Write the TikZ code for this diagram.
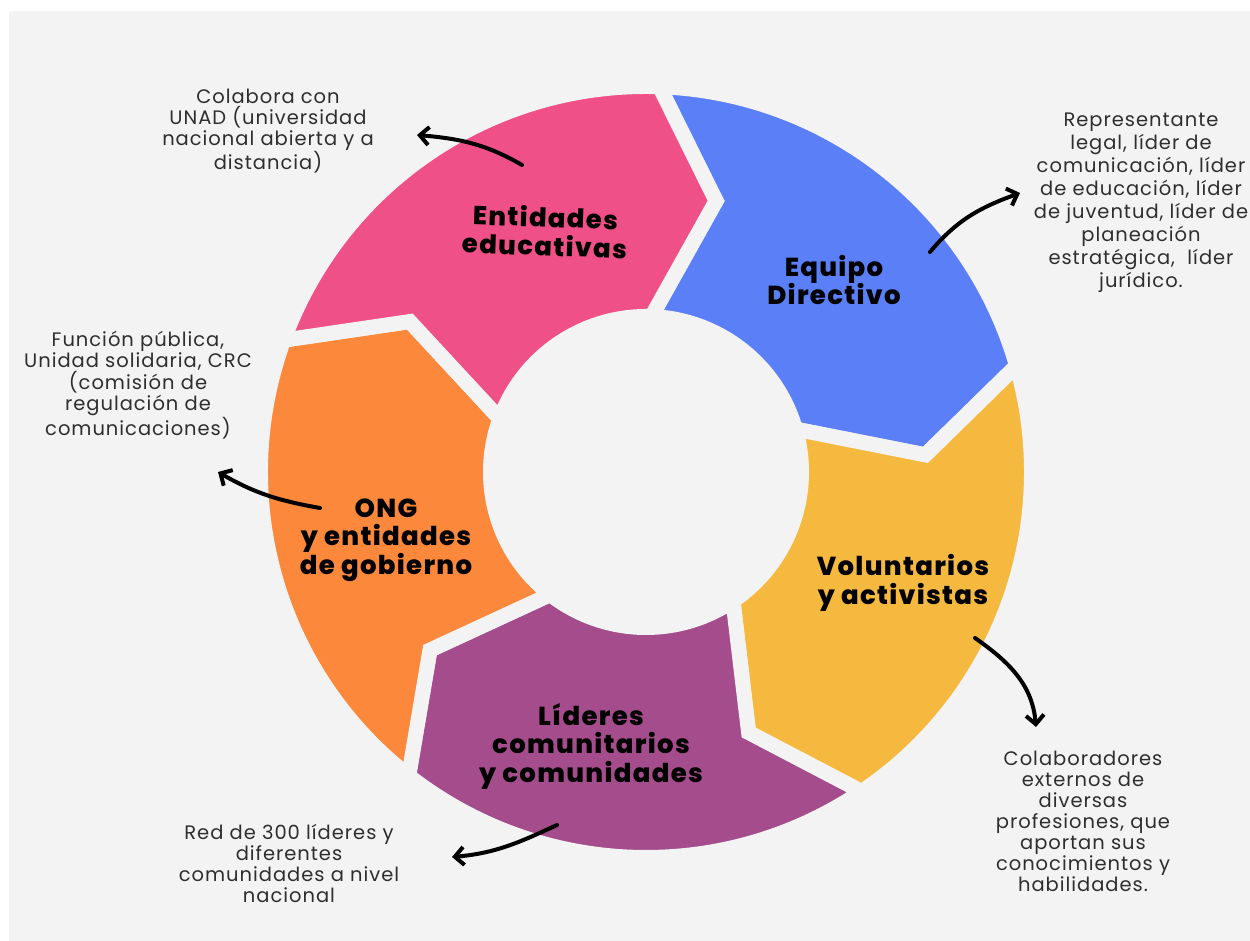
\documentclass[tikz,border=0pt]{standalone}
\usepackage{fontspec}
\setmainfont{Poppins}[LetterSpace=5]
\newfontfamily\titlefont{Poppins ExtraBold}[LetterSpace=5]
\usetikzlibrary{arrows.meta}

\definecolor{bgray}{HTML}{F3F3F3}
\definecolor{notetext}{HTML}{2E2E2E}
\definecolor{pinkpart}{HTML}{EF5087}
\definecolor{bluepart}{HTML}{5B7FF6}
\definecolor{yellowpart}{HTML}{F6B940}
\definecolor{purplepart}{HTML}{A54C8C}
\definecolor{orangepart}{HTML}{FB883B}

\begin{document}
\begin{tikzpicture}[x=1pt, y=1pt,
    note/.style={align=center, text=notetext, font=\fontsize{19.5}{21}\selectfont},
    title/.style={align=center, text=black, font=\titlefont\fontsize{26}{28.5}\selectfont},
    link/.style={-{Straight Barb[length=9pt, width=18pt]}, line width=4pt, line cap=round, line join=round},
    gap/.style={draw=bgray, line width=15pt}]

    %% Background
    \fill[white] (0,0) rectangle (1250,941);
    \fill[bgray] (9,0) rectangle (1250,930);
    \useasboundingbox (0,0) rectangle (1250,941);

  \coordinate (C) at (646,469);

  % Anillo de cinco flechas
  \begin{scope}[shift={(C)}]
    \path[fill=bluepart, gap] (88:385.5pt) arc[start angle=88, end angle=16, radius=385.5pt]
      -- (3.5:280pt) -- (16:155.5pt) arc[start angle=16, end angle=88, radius=155.5pt]
      -- (75.5:280pt) -- cycle;
    \path[fill=yellowpart, gap] (16:385.5pt) arc[start angle=16, end angle=-56, radius=385.5pt]
      -- (-68.5:280pt) -- (-56:155.5pt) arc[start angle=-56, end angle=16, radius=155.5pt]
      -- (3.5:280pt) -- cycle;
    \path[fill=purplepart, gap] (-56:385.5pt) arc[start angle=-56, end angle=-128, radius=385.5pt]
      -- (-140.5:280pt) -- (-128:155.5pt) arc[start angle=-128, end angle=-56, radius=155.5pt]
      -- (-68.5:280pt) -- cycle;
    \path[fill=orangepart, gap] (-128:385.5pt) arc[start angle=-128, end angle=-200, radius=385.5pt]
      -- (-212.5:280pt) -- (-200:155.5pt) arc[start angle=-200, end angle=-128, radius=155.5pt]
      -- (-140.5:280pt) -- cycle;
    \path[fill=pinkpart, gap] (160:385.5pt) arc[start angle=160, end angle=88, radius=385.5pt]
      -- (75.5:280pt) -- (88:155.5pt) arc[start angle=88, end angle=160, radius=155.5pt]
      -- (147.5:280pt) -- cycle;
  \end{scope}

  % Rótulos de las flechas
  \node[title, rotate=-2] (edu) at (545,710) {Entidades\\educativas};
  \node[title] (dir) at (834,661) {Equipo\\Directivo};
  \node[title] (vol) at (903,358) {Voluntarios\\y activistas};
  \node[title] (lid) at (591,195) {Líderes\\comunitarios\\y comunidades};
  \node[title] (ong) at (386,401) {ONG\\y entidades\\de gobierno};

  % Notas
  \node[note] (edu-note) at (268,810) {Colabora con\\UNAD (universidad\\nacional abierta y a\\distancia)};
  \node[note, font=\fontsize{19.5}{23}\selectfont] (dir-note) at (1141,738) {Representante\\legal, líder de\\comunicación, líder\\de educación, líder\\de juventud, líder de\\planeación\\estratégica,\ \ líder\\jurídico.};
  \node[note] (ong-note) at (138,556) {Función pública,\\Unidad solidaria, CRC\\(comisión de\\regulación de\\comunicaciones)};
  \node[note] (lid-note) at (289,78) {Red de 300 líderes y\\diferentes\\comunidades a nivel\\nacional};
  \node[note] (vol-note) at (1083,120) {Colaboradores\\externos de\\diversas\\profesiones, que\\aportan sus\\conocimientos y\\habilidades.};

  % Flechas curvas
  \coordinate (edu-a) at (522,776);
  \coordinate (edu-b) at (417,806);
  \coordinate (dir-a) at (930,689);
  \coordinate (dir-b) at (1020,748);
  \coordinate (ong-a) at (320,433);
  \coordinate (ong-b) at (218,469);
  \coordinate (vol-a) at (975,303);
  \coordinate (vol-b) at (1036,214);
  \coordinate (lid-a) at (557,116);
  \coordinate (lid-b) at (452,84);

  \draw[link] (edu-a) to[out=150, in=-5] (edu-b);
  \draw[link] (dir-a) to[out=50, in=200] (dir-b);
  \draw[link] (ong-a) to[out=170, in=-30] (ong-b);
  \draw[link] (vol-a) to[out=-35, in=95] (vol-b);
  \draw[link] (lid-a) to[out=205, in=5] (lid-b);

\end{tikzpicture}
\end{document}
